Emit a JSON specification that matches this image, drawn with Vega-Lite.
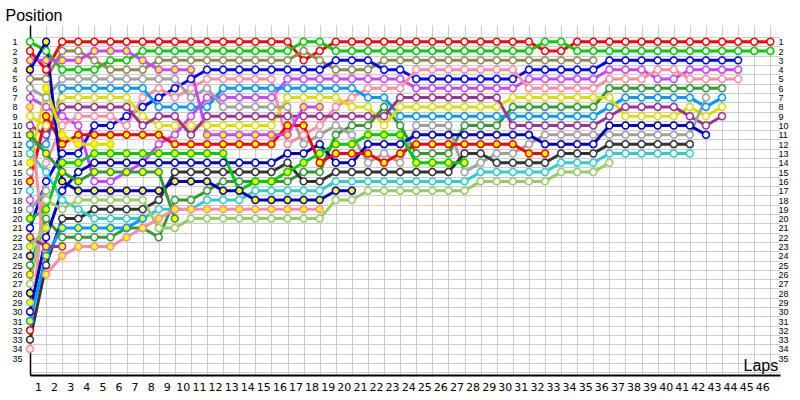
{
"$schema": "https://vega.github.io/schema/vega-lite/v6.json",
"width": 750, "height": 350,
"autosize": {"type": "none"},
"padding": {"left": 30, "top": 25, "right": 20, "bottom": 25},
"background": "white",
"config": {"view": {"stroke": null}, "font": "DejaVu Sans"},
"data": {"values": [
{"d":1,"l":0,"p":2},{"d":1,"l":1,"p":4},{"d":1,"l":2,"p":1},{"d":1,"l":3,"p":1},{"d":1,"l":4,"p":1},{"d":1,"l":5,"p":1},{"d":1,"l":6,"p":1},{"d":1,"l":7,"p":1},{"d":1,"l":8,"p":1},{"d":1,"l":9,"p":1},{"d":1,"l":10,"p":1},{"d":1,"l":11,"p":1},{"d":1,"l":12,"p":1},{"d":1,"l":13,"p":1},{"d":1,"l":14,"p":1},{"d":1,"l":15,"p":1},{"d":1,"l":16,"p":1},{"d":1,"l":17,"p":3},{"d":1,"l":18,"p":2},{"d":1,"l":19,"p":1},{"d":1,"l":20,"p":1},{"d":1,"l":21,"p":1},{"d":1,"l":22,"p":1},{"d":1,"l":23,"p":1},{"d":1,"l":24,"p":1},{"d":1,"l":25,"p":1},{"d":1,"l":26,"p":1},{"d":1,"l":27,"p":1},{"d":1,"l":28,"p":1},{"d":1,"l":29,"p":1},{"d":1,"l":30,"p":1},{"d":1,"l":31,"p":1},{"d":1,"l":32,"p":2},{"d":1,"l":33,"p":2},{"d":1,"l":34,"p":1},{"d":1,"l":35,"p":1},{"d":1,"l":36,"p":1},{"d":1,"l":37,"p":1},{"d":1,"l":38,"p":1},{"d":1,"l":39,"p":1},{"d":1,"l":40,"p":1},{"d":1,"l":41,"p":1},{"d":1,"l":42,"p":1},{"d":1,"l":43,"p":1},{"d":1,"l":44,"p":1},{"d":1,"l":45,"p":1},{"d":1,"l":46,"p":1},
{"d":2,"l":0,"p":1},{"d":2,"l":1,"p":2},{"d":2,"l":2,"p":4},{"d":2,"l":3,"p":4},{"d":2,"l":4,"p":4},{"d":2,"l":5,"p":3},{"d":2,"l":6,"p":3},{"d":2,"l":7,"p":2},{"d":2,"l":8,"p":2},{"d":2,"l":9,"p":2},{"d":2,"l":10,"p":2},{"d":2,"l":11,"p":2},{"d":2,"l":12,"p":2},{"d":2,"l":13,"p":2},{"d":2,"l":14,"p":2},{"d":2,"l":15,"p":2},{"d":2,"l":16,"p":2},{"d":2,"l":17,"p":1},{"d":2,"l":18,"p":1},{"d":2,"l":19,"p":2},{"d":2,"l":20,"p":2},{"d":2,"l":21,"p":2},{"d":2,"l":22,"p":2},{"d":2,"l":23,"p":2},{"d":2,"l":24,"p":2},{"d":2,"l":25,"p":2},{"d":2,"l":26,"p":2},{"d":2,"l":27,"p":2},{"d":2,"l":28,"p":2},{"d":2,"l":29,"p":2},{"d":2,"l":30,"p":2},{"d":2,"l":31,"p":2},{"d":2,"l":32,"p":1},{"d":2,"l":33,"p":1},{"d":2,"l":34,"p":2},{"d":2,"l":35,"p":2},{"d":2,"l":36,"p":2},{"d":2,"l":37,"p":2},{"d":2,"l":38,"p":2},{"d":2,"l":39,"p":2},{"d":2,"l":40,"p":2},{"d":2,"l":41,"p":2},{"d":2,"l":42,"p":2},{"d":2,"l":43,"p":2},{"d":2,"l":44,"p":2},{"d":2,"l":45,"p":2},{"d":2,"l":46,"p":2},
{"d":3,"l":0,"p":5},{"d":3,"l":1,"p":5},{"d":3,"l":2,"p":2},{"d":3,"l":3,"p":2},{"d":3,"l":4,"p":3},{"d":3,"l":5,"p":4},{"d":3,"l":6,"p":4},{"d":3,"l":7,"p":4},{"d":3,"l":8,"p":3},{"d":3,"l":9,"p":3},{"d":3,"l":10,"p":3},{"d":3,"l":11,"p":3},{"d":3,"l":12,"p":3},{"d":3,"l":13,"p":3},{"d":3,"l":14,"p":3},{"d":3,"l":15,"p":3},{"d":3,"l":16,"p":3},{"d":3,"l":17,"p":2},{"d":3,"l":18,"p":3},{"d":3,"l":19,"p":4},{"d":3,"l":20,"p":4},{"d":3,"l":21,"p":4},{"d":3,"l":22,"p":3},{"d":3,"l":23,"p":3},{"d":3,"l":24,"p":3},{"d":3,"l":25,"p":3},{"d":3,"l":26,"p":3},{"d":3,"l":27,"p":3},{"d":3,"l":28,"p":3},{"d":3,"l":29,"p":3},{"d":3,"l":30,"p":3},{"d":3,"l":31,"p":3},{"d":3,"l":32,"p":3},{"d":3,"l":33,"p":3},{"d":3,"l":34,"p":3},{"d":3,"l":35,"p":3},
{"d":4,"l":0,"p":21},{"d":4,"l":1,"p":16},{"d":4,"l":2,"p":13},{"d":4,"l":3,"p":13},{"d":4,"l":4,"p":10},{"d":4,"l":5,"p":10},{"d":4,"l":6,"p":9},{"d":4,"l":7,"p":8},{"d":4,"l":8,"p":7},{"d":4,"l":9,"p":6},{"d":4,"l":10,"p":5},{"d":4,"l":11,"p":4},{"d":4,"l":12,"p":4},{"d":4,"l":13,"p":4},{"d":4,"l":14,"p":4},{"d":4,"l":15,"p":4},{"d":4,"l":16,"p":4},{"d":4,"l":17,"p":4},{"d":4,"l":18,"p":4},{"d":4,"l":19,"p":3},{"d":4,"l":20,"p":3},{"d":4,"l":21,"p":3},{"d":4,"l":22,"p":4},{"d":4,"l":23,"p":4},{"d":4,"l":24,"p":5},{"d":4,"l":25,"p":5},{"d":4,"l":26,"p":5},{"d":4,"l":27,"p":5},{"d":4,"l":28,"p":5},{"d":4,"l":29,"p":5},{"d":4,"l":30,"p":5},{"d":4,"l":31,"p":4},{"d":4,"l":32,"p":4},{"d":4,"l":33,"p":4},{"d":4,"l":34,"p":4},{"d":4,"l":35,"p":4},{"d":4,"l":36,"p":3},{"d":4,"l":37,"p":3},{"d":4,"l":38,"p":3},{"d":4,"l":39,"p":3},{"d":4,"l":40,"p":3},{"d":4,"l":41,"p":3},{"d":4,"l":42,"p":3},{"d":4,"l":43,"p":3},{"d":4,"l":44,"p":3},
{"d":5,"l":0,"p":7},{"d":5,"l":1,"p":8},{"d":5,"l":2,"p":9},{"d":5,"l":3,"p":10},{"d":5,"l":4,"p":16},{"d":5,"l":5,"p":16},{"d":5,"l":6,"p":15},{"d":5,"l":7,"p":14},{"d":5,"l":8,"p":12},{"d":5,"l":9,"p":11},{"d":5,"l":10,"p":9},{"d":5,"l":11,"p":7},{"d":5,"l":12,"p":7},{"d":5,"l":13,"p":7},{"d":5,"l":14,"p":7},{"d":5,"l":15,"p":7},{"d":5,"l":16,"p":5},{"d":5,"l":17,"p":5},{"d":5,"l":18,"p":5},{"d":5,"l":19,"p":5},{"d":5,"l":20,"p":5},{"d":5,"l":21,"p":5},{"d":5,"l":22,"p":5},{"d":5,"l":23,"p":5},{"d":5,"l":24,"p":6},{"d":5,"l":25,"p":6},{"d":5,"l":26,"p":6},{"d":5,"l":27,"p":6},{"d":5,"l":28,"p":6},{"d":5,"l":29,"p":6},{"d":5,"l":30,"p":6},{"d":5,"l":31,"p":5},{"d":5,"l":32,"p":5},{"d":5,"l":33,"p":5},{"d":5,"l":34,"p":5},{"d":5,"l":35,"p":5},{"d":5,"l":36,"p":4},{"d":5,"l":37,"p":4},{"d":5,"l":38,"p":4},{"d":5,"l":39,"p":5},{"d":5,"l":40,"p":5},{"d":5,"l":41,"p":4},{"d":5,"l":42,"p":4},{"d":5,"l":43,"p":4},{"d":5,"l":44,"p":4},
{"d":6,"l":0,"p":34},{"d":6,"l":1,"p":14},{"d":6,"l":2,"p":10},{"d":6,"l":3,"p":9},{"d":6,"l":4,"p":9},{"d":6,"l":5,"p":9},{"d":6,"l":6,"p":10},{"d":6,"l":7,"p":7},{"d":6,"l":8,"p":6},{"d":6,"l":9,"p":7},{"d":6,"l":10,"p":6},{"d":6,"l":11,"p":5},{"d":6,"l":12,"p":5},{"d":6,"l":13,"p":5},{"d":6,"l":14,"p":5},{"d":6,"l":15,"p":5},{"d":6,"l":16,"p":12},{"d":6,"l":17,"p":11},{"d":6,"l":18,"p":10},{"d":6,"l":19,"p":8},{"d":6,"l":20,"p":7},{"d":6,"l":21,"p":6},{"d":6,"l":22,"p":6},{"d":6,"l":23,"p":6},{"d":6,"l":24,"p":4},{"d":6,"l":25,"p":4},{"d":6,"l":26,"p":4},{"d":6,"l":27,"p":4},{"d":6,"l":28,"p":4},{"d":6,"l":29,"p":4},{"d":6,"l":30,"p":4},{"d":6,"l":31,"p":6},{"d":6,"l":32,"p":6},{"d":6,"l":33,"p":6},{"d":6,"l":34,"p":6},{"d":6,"l":35,"p":6},{"d":6,"l":36,"p":5},{"d":6,"l":37,"p":5},{"d":6,"l":38,"p":5},{"d":6,"l":39,"p":4},{"d":6,"l":40,"p":4},{"d":6,"l":41,"p":5},{"d":6,"l":42,"p":5},{"d":6,"l":43,"p":5},{"d":6,"l":44,"p":5},
{"d":7,"l":0,"p":25},{"d":7,"l":1,"p":20},{"d":7,"l":2,"p":22},{"d":7,"l":3,"p":22},{"d":7,"l":4,"p":22},{"d":7,"l":5,"p":22},{"d":7,"l":6,"p":21},{"d":7,"l":7,"p":21},{"d":7,"l":8,"p":22},{"d":7,"l":9,"p":18},{"d":7,"l":10,"p":18},{"d":7,"l":11,"p":17},{"d":7,"l":12,"p":16},{"d":7,"l":13,"p":16},{"d":7,"l":14,"p":16},{"d":7,"l":15,"p":16},{"d":7,"l":16,"p":16},{"d":7,"l":17,"p":15},{"d":7,"l":18,"p":15},{"d":7,"l":19,"p":11},{"d":7,"l":20,"p":10},{"d":7,"l":21,"p":10},{"d":7,"l":22,"p":8},{"d":7,"l":23,"p":10},{"d":7,"l":24,"p":13},{"d":7,"l":25,"p":13},{"d":7,"l":26,"p":13},{"d":7,"l":27,"p":10},{"d":7,"l":28,"p":10},{"d":7,"l":29,"p":10},{"d":7,"l":30,"p":8},{"d":7,"l":31,"p":8},{"d":7,"l":32,"p":8},{"d":7,"l":33,"p":8},{"d":7,"l":34,"p":8},{"d":7,"l":35,"p":8},{"d":7,"l":36,"p":6},{"d":7,"l":37,"p":6},{"d":7,"l":38,"p":6},{"d":7,"l":39,"p":6},{"d":7,"l":40,"p":6},{"d":7,"l":41,"p":6},{"d":7,"l":42,"p":6},{"d":7,"l":43,"p":6},
{"d":8,"l":0,"p":12},{"d":8,"l":1,"p":12},{"d":8,"l":2,"p":6},{"d":8,"l":3,"p":6},{"d":8,"l":4,"p":6},{"d":8,"l":5,"p":6},{"d":8,"l":6,"p":6},{"d":8,"l":7,"p":6},{"d":8,"l":8,"p":8},{"d":8,"l":9,"p":8},{"d":8,"l":10,"p":8},{"d":8,"l":11,"p":8},{"d":8,"l":12,"p":6},{"d":8,"l":13,"p":6},{"d":8,"l":14,"p":6},{"d":8,"l":15,"p":6},{"d":8,"l":16,"p":6},{"d":8,"l":17,"p":6},{"d":8,"l":18,"p":6},{"d":8,"l":19,"p":6},{"d":8,"l":20,"p":6},{"d":8,"l":21,"p":7},{"d":8,"l":22,"p":7},{"d":8,"l":23,"p":9},{"d":8,"l":24,"p":9},{"d":8,"l":25,"p":9},{"d":8,"l":26,"p":9},{"d":8,"l":27,"p":9},{"d":8,"l":28,"p":9},{"d":8,"l":29,"p":9},{"d":8,"l":30,"p":9},{"d":8,"l":31,"p":9},{"d":8,"l":32,"p":9},{"d":8,"l":33,"p":9},{"d":8,"l":34,"p":9},{"d":8,"l":35,"p":9},{"d":8,"l":36,"p":8},{"d":8,"l":37,"p":7},{"d":8,"l":38,"p":7},{"d":8,"l":39,"p":7},{"d":8,"l":40,"p":7},{"d":8,"l":41,"p":7},{"d":8,"l":42,"p":8},{"d":8,"l":43,"p":7},
{"d":9,"l":0,"p":9},{"d":9,"l":1,"p":10},{"d":9,"l":2,"p":7},{"d":9,"l":3,"p":7},{"d":9,"l":4,"p":7},{"d":9,"l":5,"p":7},{"d":9,"l":6,"p":7},{"d":9,"l":7,"p":9},{"d":9,"l":8,"p":10},{"d":9,"l":9,"p":10},{"d":9,"l":10,"p":10},{"d":9,"l":11,"p":10},{"d":9,"l":12,"p":10},{"d":9,"l":13,"p":10},{"d":9,"l":14,"p":10},{"d":9,"l":15,"p":10},{"d":9,"l":16,"p":7},{"d":9,"l":17,"p":7},{"d":9,"l":18,"p":7},{"d":9,"l":19,"p":7},{"d":9,"l":20,"p":8},{"d":9,"l":21,"p":8},{"d":9,"l":22,"p":10},{"d":9,"l":23,"p":8},{"d":9,"l":24,"p":8},{"d":9,"l":25,"p":8},{"d":9,"l":26,"p":8},{"d":9,"l":27,"p":8},{"d":9,"l":28,"p":8},{"d":9,"l":29,"p":8},{"d":9,"l":30,"p":7},{"d":9,"l":31,"p":7},{"d":9,"l":32,"p":7},{"d":9,"l":33,"p":7},{"d":9,"l":34,"p":7},{"d":9,"l":35,"p":7},{"d":9,"l":36,"p":7},{"d":9,"l":37,"p":9},{"d":9,"l":38,"p":9},{"d":9,"l":39,"p":9},{"d":9,"l":40,"p":9},{"d":9,"l":41,"p":8},{"d":9,"l":42,"p":9},{"d":9,"l":43,"p":8},
{"d":10,"l":0,"p":10},{"d":10,"l":1,"p":11},{"d":10,"l":2,"p":8},{"d":10,"l":3,"p":8},{"d":10,"l":4,"p":8},{"d":10,"l":5,"p":8},{"d":10,"l":6,"p":8},{"d":10,"l":7,"p":10},{"d":10,"l":8,"p":9},{"d":10,"l":9,"p":9},{"d":10,"l":10,"p":11},{"d":10,"l":11,"p":9},{"d":10,"l":12,"p":9},{"d":10,"l":13,"p":9},{"d":10,"l":14,"p":9},{"d":10,"l":15,"p":9},{"d":10,"l":16,"p":9},{"d":10,"l":17,"p":9},{"d":10,"l":18,"p":9},{"d":10,"l":19,"p":9},{"d":10,"l":20,"p":9},{"d":10,"l":21,"p":9},{"d":10,"l":22,"p":9},{"d":10,"l":23,"p":7},{"d":10,"l":24,"p":7},{"d":10,"l":25,"p":7},{"d":10,"l":26,"p":7},{"d":10,"l":27,"p":7},{"d":10,"l":28,"p":7},{"d":10,"l":29,"p":7},{"d":10,"l":30,"p":10},{"d":10,"l":31,"p":10},{"d":10,"l":32,"p":10},{"d":10,"l":33,"p":10},{"d":10,"l":34,"p":10},{"d":10,"l":35,"p":10},{"d":10,"l":36,"p":9},{"d":10,"l":37,"p":8},{"d":10,"l":38,"p":8},{"d":10,"l":39,"p":8},{"d":10,"l":40,"p":8},{"d":10,"l":41,"p":9},{"d":10,"l":42,"p":10},{"d":10,"l":43,"p":9},
{"d":11,"l":0,"p":6},{"d":11,"l":1,"p":7},{"d":11,"l":2,"p":5},{"d":11,"l":3,"p":5},{"d":11,"l":4,"p":5},{"d":11,"l":5,"p":5},{"d":11,"l":6,"p":5},{"d":11,"l":7,"p":5},{"d":11,"l":8,"p":5},{"d":11,"l":9,"p":5},{"d":11,"l":10,"p":7},{"d":11,"l":11,"p":6},{"d":11,"l":12,"p":8},{"d":11,"l":13,"p":8},{"d":11,"l":14,"p":8},{"d":11,"l":15,"p":8},{"d":11,"l":16,"p":8},{"d":11,"l":17,"p":12},{"d":11,"l":18,"p":11},{"d":11,"l":19,"p":10},{"d":11,"l":20,"p":11},{"d":11,"l":21,"p":14},{"d":11,"l":22,"p":13},{"d":11,"l":23,"p":14},{"d":11,"l":24,"p":10},{"d":11,"l":25,"p":10},{"d":11,"l":26,"p":10},{"d":11,"l":27,"p":15},{"d":11,"l":28,"p":14},{"d":11,"l":29,"p":13},{"d":11,"l":30,"p":13},{"d":11,"l":31,"p":12},{"d":11,"l":32,"p":11},{"d":11,"l":33,"p":11},{"d":11,"l":34,"p":11},{"d":11,"l":35,"p":11},{"d":11,"l":36,"p":11},{"d":11,"l":37,"p":11},{"d":11,"l":38,"p":11},{"d":11,"l":39,"p":11},{"d":11,"l":40,"p":11},{"d":11,"l":41,"p":11},{"d":11,"l":42,"p":7},
{"d":12,"l":0,"p":30},{"d":12,"l":1,"p":22},{"d":12,"l":2,"p":17},{"d":12,"l":3,"p":15},{"d":12,"l":4,"p":14},{"d":12,"l":5,"p":14},{"d":12,"l":6,"p":14},{"d":12,"l":7,"p":14},{"d":12,"l":8,"p":14},{"d":12,"l":9,"p":14},{"d":12,"l":10,"p":14},{"d":12,"l":11,"p":14},{"d":12,"l":12,"p":14},{"d":12,"l":13,"p":14},{"d":12,"l":14,"p":14},{"d":12,"l":15,"p":14},{"d":12,"l":16,"p":13},{"d":12,"l":17,"p":13},{"d":12,"l":18,"p":12},{"d":12,"l":19,"p":14},{"d":12,"l":20,"p":14},{"d":12,"l":21,"p":12},{"d":12,"l":22,"p":12},{"d":12,"l":23,"p":12},{"d":12,"l":24,"p":11},{"d":12,"l":25,"p":11},{"d":12,"l":26,"p":11},{"d":12,"l":27,"p":11},{"d":12,"l":28,"p":11},{"d":12,"l":29,"p":11},{"d":12,"l":30,"p":11},{"d":12,"l":31,"p":11},{"d":12,"l":32,"p":12},{"d":12,"l":33,"p":12},{"d":12,"l":34,"p":12},{"d":12,"l":35,"p":12},{"d":12,"l":36,"p":10},{"d":12,"l":37,"p":10},{"d":12,"l":38,"p":10},{"d":12,"l":39,"p":10},{"d":12,"l":40,"p":10},{"d":12,"l":41,"p":10},{"d":12,"l":42,"p":11},
{"d":13,"l":0,"p":33},{"d":13,"l":1,"p":25},{"d":13,"l":2,"p":20},{"d":13,"l":3,"p":20},{"d":13,"l":4,"p":19},{"d":13,"l":5,"p":19},{"d":13,"l":6,"p":19},{"d":13,"l":7,"p":19},{"d":13,"l":8,"p":18},{"d":13,"l":9,"p":15},{"d":13,"l":10,"p":15},{"d":13,"l":11,"p":15},{"d":13,"l":12,"p":15},{"d":13,"l":13,"p":15},{"d":13,"l":14,"p":15},{"d":13,"l":15,"p":15},{"d":13,"l":16,"p":14},{"d":13,"l":17,"p":16},{"d":13,"l":18,"p":16},{"d":13,"l":19,"p":15},{"d":13,"l":20,"p":15},{"d":13,"l":21,"p":15},{"d":13,"l":22,"p":15},{"d":13,"l":23,"p":15},{"d":13,"l":24,"p":15},{"d":13,"l":25,"p":15},{"d":13,"l":26,"p":15},{"d":13,"l":27,"p":13},{"d":13,"l":28,"p":13},{"d":13,"l":29,"p":14},{"d":13,"l":30,"p":14},{"d":13,"l":31,"p":14},{"d":13,"l":32,"p":14},{"d":13,"l":33,"p":13},{"d":13,"l":34,"p":13},{"d":13,"l":35,"p":13},{"d":13,"l":36,"p":12},{"d":13,"l":37,"p":12},{"d":13,"l":38,"p":12},{"d":13,"l":39,"p":12},{"d":13,"l":40,"p":12},{"d":13,"l":41,"p":12},
{"d":14,"l":0,"p":13},{"d":14,"l":1,"p":15},{"d":14,"l":2,"p":18},{"d":14,"l":3,"p":19},{"d":14,"l":4,"p":20},{"d":14,"l":5,"p":20},{"d":14,"l":6,"p":20},{"d":14,"l":7,"p":20},{"d":14,"l":8,"p":19},{"d":14,"l":9,"p":19},{"d":14,"l":10,"p":19},{"d":14,"l":11,"p":18},{"d":14,"l":12,"p":18},{"d":14,"l":13,"p":18},{"d":14,"l":14,"p":17},{"d":14,"l":15,"p":17},{"d":14,"l":16,"p":17},{"d":14,"l":17,"p":17},{"d":14,"l":18,"p":17},{"d":14,"l":19,"p":16},{"d":14,"l":20,"p":16},{"d":14,"l":21,"p":16},{"d":14,"l":22,"p":16},{"d":14,"l":23,"p":16},{"d":14,"l":24,"p":16},{"d":14,"l":25,"p":16},{"d":14,"l":26,"p":16},{"d":14,"l":27,"p":16},{"d":14,"l":28,"p":15},{"d":14,"l":29,"p":15},{"d":14,"l":30,"p":15},{"d":14,"l":31,"p":15},{"d":14,"l":32,"p":15},{"d":14,"l":33,"p":14},{"d":14,"l":34,"p":14},{"d":14,"l":35,"p":14},{"d":14,"l":36,"p":13},{"d":14,"l":37,"p":13},{"d":14,"l":38,"p":13},{"d":14,"l":39,"p":13},{"d":14,"l":40,"p":13},{"d":14,"l":41,"p":13},
{"d":15,"l":0,"p":27},{"d":15,"l":1,"p":18},{"d":15,"l":2,"p":19},{"d":15,"l":3,"p":18},{"d":15,"l":4,"p":18},{"d":15,"l":5,"p":18},{"d":15,"l":6,"p":18},{"d":15,"l":7,"p":18},{"d":15,"l":8,"p":21},{"d":15,"l":9,"p":21},{"d":15,"l":10,"p":20},{"d":15,"l":11,"p":20},{"d":15,"l":12,"p":20},{"d":15,"l":13,"p":20},{"d":15,"l":14,"p":20},{"d":15,"l":15,"p":20},{"d":15,"l":16,"p":20},{"d":15,"l":17,"p":20},{"d":15,"l":18,"p":20},{"d":15,"l":19,"p":18},{"d":15,"l":20,"p":18},{"d":15,"l":21,"p":17},{"d":15,"l":22,"p":17},{"d":15,"l":23,"p":17},{"d":15,"l":24,"p":17},{"d":15,"l":25,"p":17},{"d":15,"l":26,"p":17},{"d":15,"l":27,"p":17},{"d":15,"l":28,"p":16},{"d":15,"l":29,"p":16},{"d":15,"l":30,"p":16},{"d":15,"l":31,"p":16},{"d":15,"l":32,"p":16},{"d":15,"l":33,"p":15},{"d":15,"l":34,"p":15},{"d":15,"l":35,"p":15},{"d":15,"l":36,"p":14},
{"d":16,"l":0,"p":16},{"d":16,"l":1,"p":9},{"d":16,"l":2,"p":12},{"d":16,"l":3,"p":11},{"d":16,"l":4,"p":11},{"d":16,"l":5,"p":11},{"d":16,"l":6,"p":11},{"d":16,"l":7,"p":11},{"d":16,"l":8,"p":11},{"d":16,"l":9,"p":12},{"d":16,"l":10,"p":12},{"d":16,"l":11,"p":12},{"d":16,"l":12,"p":12},{"d":16,"l":13,"p":12},{"d":16,"l":14,"p":12},{"d":16,"l":15,"p":12},{"d":16,"l":16,"p":10},{"d":16,"l":17,"p":10},{"d":16,"l":18,"p":14},{"d":16,"l":19,"p":13},{"d":16,"l":20,"p":13},{"d":16,"l":21,"p":13},{"d":16,"l":22,"p":14},{"d":16,"l":23,"p":13},{"d":16,"l":24,"p":12},{"d":16,"l":25,"p":12},{"d":16,"l":26,"p":12},{"d":16,"l":27,"p":12},{"d":16,"l":28,"p":12},{"d":16,"l":29,"p":12},{"d":16,"l":30,"p":12},{"d":16,"l":31,"p":13},{"d":16,"l":32,"p":13},
{"d":17,"l":0,"p":3},{"d":17,"l":1,"p":3},{"d":17,"l":2,"p":3},{"d":17,"l":3,"p":3},{"d":17,"l":4,"p":2},{"d":17,"l":5,"p":2},{"d":17,"l":6,"p":2},{"d":17,"l":7,"p":3},{"d":17,"l":8,"p":4},{"d":17,"l":9,"p":4},{"d":17,"l":10,"p":4},{"d":17,"l":11,"p":11},{"d":17,"l":12,"p":11},{"d":17,"l":13,"p":11},{"d":17,"l":14,"p":11},{"d":17,"l":15,"p":11},{"d":17,"l":16,"p":11},{"d":17,"l":17,"p":8},{"d":17,"l":18,"p":8},
{"d":18,"l":0,"p":20},{"d":18,"l":1,"p":19},{"d":18,"l":2,"p":14},{"d":18,"l":3,"p":14},{"d":18,"l":4,"p":13},{"d":18,"l":5,"p":13},{"d":18,"l":6,"p":13},{"d":18,"l":7,"p":13},{"d":18,"l":8,"p":13},{"d":18,"l":9,"p":13},{"d":18,"l":10,"p":13},{"d":18,"l":11,"p":13},{"d":18,"l":12,"p":13},{"d":18,"l":13,"p":17},{"d":18,"l":14,"p":16},{"d":18,"l":15,"p":16},{"d":18,"l":16,"p":15},{"d":18,"l":17,"p":14},{"d":18,"l":18,"p":13},{"d":18,"l":19,"p":12},{"d":18,"l":20,"p":12},{"d":18,"l":21,"p":11},{"d":18,"l":22,"p":11},{"d":18,"l":23,"p":11},{"d":18,"l":24,"p":14},{"d":18,"l":25,"p":14},{"d":18,"l":26,"p":14},{"d":18,"l":27,"p":14},
{"d":19,"l":0,"p":4},{"d":19,"l":1,"p":1},{"d":19,"l":2,"p":16},{"d":19,"l":3,"p":17},{"d":19,"l":4,"p":17},{"d":19,"l":5,"p":17},{"d":19,"l":6,"p":17},{"d":19,"l":7,"p":17},{"d":19,"l":8,"p":17},{"d":19,"l":9,"p":16},{"d":19,"l":10,"p":16},{"d":19,"l":11,"p":16},{"d":19,"l":12,"p":17},{"d":19,"l":13,"p":17},{"d":19,"l":14,"p":18},{"d":19,"l":15,"p":18},{"d":19,"l":16,"p":18},{"d":19,"l":17,"p":18},{"d":19,"l":18,"p":18},{"d":19,"l":19,"p":17},{"d":19,"l":20,"p":17},
{"d":20,"l":0,"p":31},{"d":20,"l":1,"p":24},{"d":20,"l":2,"p":21},{"d":20,"l":3,"p":21},{"d":20,"l":4,"p":21},{"d":20,"l":5,"p":21},{"d":20,"l":6,"p":21},{"d":20,"l":7,"p":20},
{"d":21,"l":0,"p":8},{"d":21,"l":1,"p":26},{"d":21,"l":2,"p":24},{"d":21,"l":3,"p":23},{"d":21,"l":4,"p":23},{"d":21,"l":5,"p":23},{"d":21,"l":6,"p":22},{"d":21,"l":7,"p":21},{"d":21,"l":8,"p":20},{"d":21,"l":9,"p":19},{"d":21,"l":10,"p":19},{"d":21,"l":11,"p":19},{"d":21,"l":12,"p":19},{"d":21,"l":13,"p":19},{"d":21,"l":14,"p":19},{"d":21,"l":15,"p":19},{"d":21,"l":16,"p":19},{"d":21,"l":17,"p":19},{"d":21,"l":18,"p":19},
{"d":22,"l":0,"p":22},{"d":22,"l":1,"p":23},{"d":22,"l":2,"p":23},
{"d":23,"l":0,"p":14},{"d":23,"l":1,"p":6},{"d":23,"l":2,"p":11},{"d":23,"l":3,"p":12},{"d":23,"l":4,"p":12},{"d":23,"l":5,"p":12},
{"d":24,"l":0,"p":11},{"d":24,"l":1,"p":13},{"d":24,"l":2,"p":15},{"d":24,"l":3,"p":16},{"d":24,"l":4,"p":15},{"d":24,"l":5,"p":15},{"d":24,"l":6,"p":15},{"d":24,"l":7,"p":15},{"d":24,"l":8,"p":15},{"d":24,"l":9,"p":20},
{"d":25,"l":0,"p":19},{"d":25,"l":1,"p":17},
{"d":26,"l":0,"p":23},{"d":26,"l":1,"p":21},
{"d":27,"l":0,"p":15},
{"d":28,"l":0,"p":17},
{"d":29,"l":0,"p":18},
{"d":30,"l":0,"p":24},
{"d":31,"l":0,"p":26},
{"d":32,"l":0,"p":28},
{"d":33,"l":0,"p":29},
{"d":34,"l":0,"p":32}
]},
"encoding": {
  "x": {"field": "l", "type": "quantitative",
    "scale": {"domain": [0, 46.6], "nice": false, "zero": false},
    "axis": {
      "values": [0,1,2,3,4,5,6,7,8,9,10,11,12,13,14,15,16,17,18,19,20,21,22,23,24,25,26,27,28,29,30,31,32,33,34,35,36,37,38,39,40,41,42,43,44,45,46],
      "labelExpr": "datum.value < 46 ? '' + (datum.value + 1) : ''",
      "labelOffset": 8, "labelOverlap": false, "labelFlush": false, "labelBound": false,
      "labelFontSize": 11, "labelFont": "DejaVu Sans", "labelColor": "#000000", "labelPadding": 6,
      "ticks": false, "tickSize": 0,
      "grid": true, "gridColor": "#cccccc", "gridWidth": 1,
      "domainColor": "#000000", "domainWidth": 2,
      "title": "Laps", "titleAlign": "left", "titleAnchor": "start", "titleBaseline": "alphabetic",
      "titleX": 713, "titleY": -5, "titleFontSize": 16, "titleFontWeight": "normal",
      "titleFont": "Liberation Sans", "titleColor": "#000000"
    }
  }
},
"layer": [
  {
    "mark": {"type": "line", "strokeWidth": 3, "strokeJoin": "round", "strokeCap": "round"},
    "encoding": {
      "y": {"field": "p", "type": "quantitative",
        "scale": {"domain": [-0.8, 36.8], "reverse": true, "nice": false, "zero": false},
        "axis": {
          "orient": "left",
          "values": [0.5,1,1.5,2,2.5,3,3.5,4,4.5,5,5.5,6,6.5,7,7.5,8,8.5,9,9.5,10,10.5,11,11.5,12,12.5,13,13.5,14,14.5,15,15.5,16,16.5,17,17.5,18,18.5,19,19.5,20,20.5,21,21.5,22,22.5,23,23.5,24,24.5,25,25.5,26,26.5,27,27.5,28,28.5,29,29.5,30,30.5,31,31.5,32,32.5,33,33.5,34,34.5,35,35.5,36.5],
          "labelExpr": "datum.value % 1 === 0 ? '' + datum.value : ''",
          "grid": true,
          "gridColor": {"condition": {"test": "datum.value % 1 !== 0", "value": "#cccccc"}, "value": "transparent"},
          "ticks": false, "tickSize": 0,
          "labelAlign": "left", "labelPadding": 18, "labelOverlap": false, "labelBound": false, "labelFlush": false,
          "labelFontSize": 9, "labelFont": "Liberation Sans", "labelColor": "#000000",
          "domainColor": "#000000", "domainWidth": 1.5,
          "title": "Position", "titleAngle": 0, "titleAlign": "left", "titleBaseline": "alphabetic",
          "titleX": -25, "titleY": -5, "titleFontSize": 16, "titleFontWeight": "normal",
          "titleFont": "Liberation Sans", "titleColor": "#000000"
        }
      },
      "stroke": {"field": "d", "type": "nominal", "legend": null,
        "scale": {"domain": [1,2,3,4,5,6,7,8,9,10,11,12,13,14,15,16,17,18,19,20,21,22,23,24,25,26,27,28,29,30,31,32,33,34],
          "range": ["#ff0000","#00cc00","#8f8a55","#0000ff","#cc44ff","#ff8da1","#339933","#0099ff","#dddd00","#993399","#a0a0a0","#0000bb","#333333","#33cccc","#99cc66","#ff0000","#cc44ff","#00cc00","#0000bb","#0099ff","#ff8da1","#993399","#dddd00","#339933","#a0a0a0","#99cc66","#a0a0a0","#33cccc","#cc44ff","#0000ff","#8f8a55","#0000bb","#99cc66","#ff0000"]}}
    }
  },
  {
    "mark": {"type": "point", "shape": "circle", "filled": true, "size": 48, "strokeWidth": 1.5, "opacity": 1},
    "encoding": {
      "y": {"field": "p", "type": "quantitative",
        "axis": {
          "orient": "right",
          "values": [1,2,3,4,5,6,7,8,9,10,11,12,13,14,15,16,17,18,19,20,21,22,23,24,25,26,27,28,29,30,31,32,33,34,35],
          "grid": false, "domain": false, "ticks": false, "tickSize": 0,
          "labelAlign": "left", "labelPadding": -2, "labelOverlap": false, "labelBound": false, "labelFlush": false,
          "labelFontSize": 9, "labelFont": "Liberation Sans", "labelColor": "#000000",
          "title": null
        }
      },
      "stroke": {"field": "d", "type": "nominal", "legend": null},
      "fill": {"field": "d", "type": "nominal", "legend": null,
        "scale": {"domain": [1,2,3,4,5,6,7,8,9,10,11,12,13,14,15,16,17,18,19,20,21,22,23,24,25,26,27,28,29,30,31,32,33,34],
          "range": ["#ffffff","#ffffff","#ffffff","#ffffff","#ffffff","#ffffff","#ffffff","#ffffff","#ffffff","#ffffff","#ffffff","#ffffff","#ffffff","#ffffff","#ffffff","#ffff00","#ffff00","#ffff00","#ffff00","#ffff00","#ffff00","#ffff00","#ffff00","#ffff00","#ffffff","#ffff00","#ffffff","#ffffff","#ffffff","#ffff00","#ffff00","#ffff00","#ffff00","#ffffff"]}}
    }
  }
],
"resolve": {"axis": {"y": "independent"}}
}
